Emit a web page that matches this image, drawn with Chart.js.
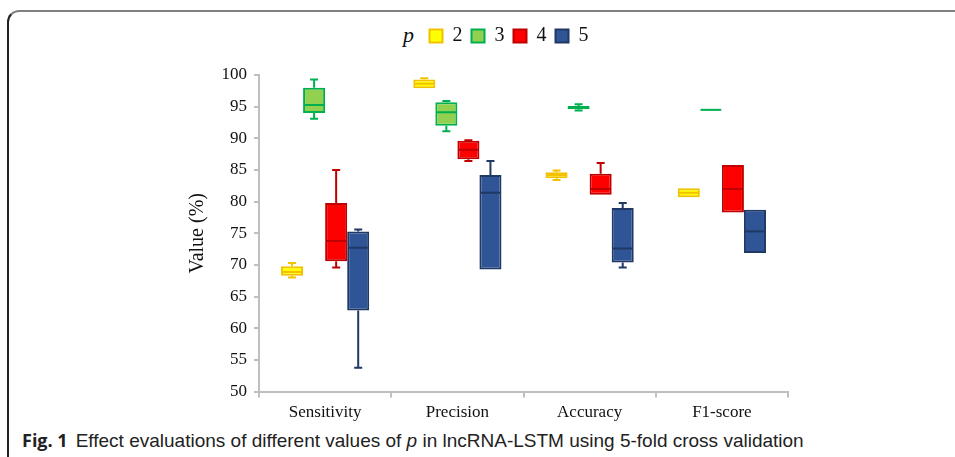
<!DOCTYPE html>
<html>
<head>
<meta charset="utf-8">
<script src="https://cdn.jsdelivr.net/npm/chart.js@4.4.1/dist/chart.umd.min.js"></script>
<style>
  html, body { margin: 0; padding: 0; background: #fff; }
  body { width: 955px; height: 457px; position: relative; overflow: hidden; }
  #frame {
    position: absolute; left: 7px; top: 10px; width: 960px; height: 470px;
    border-top: 2px solid #808080; border-left: 2px solid #222;
    border-top-left-radius: 12px; box-sizing: border-box;
  }
  #wrap { position: absolute; left: 180px; top: 14px; width: 658px; height: 414px; }
  #pLabel {
    position: absolute; left: 403px; top: 22px;
    font: italic 22px "Liberation Serif", serif; color: #111;
  }
  #caption {
    position: absolute; left: 22px; top: 428px; white-space: nowrap;
    font: 19px "Liberation Sans", sans-serif; color: #222;
  }
  #caption b { font: bold 18px "Open Sans", sans-serif; margin-right: 8px; }
</style>
</head>
<body>
<div id="frame"></div>
<div id="pLabel">p</div>
<div id="wrap"><canvas id="boxChart"></canvas></div>
<div id="caption"><b>Fig. 1</b>Effect evaluations of different values of <i>p</i> in lncRNA-LSTM using 5-fold cross validation</div>
<script>
// Categories and series (values of p)
const categories = ['Sensitivity', 'Precision', 'Accuracy', 'F1-score'];
const seriesNames = ['2', '3', '4', '5'];

// Five-number summaries per category: [min, q1, median, q3, max]
const p2 = [[68.0, 68.3, 68.9, 69.8, 70.3], [97.9, 97.9, 98.6, 99.3, 99.5], [83.4, 83.7, 84.2, 84.65, 84.9], [80.7, 80.7, 81.4, 82.1, 82.1]];
const p3 = [[93.1, 94.0, 95.25, 98.0, 99.3], [91.1, 92.0, 94.1, 95.7, 95.9], [94.4, 94.6, 94.9, 95.1, 95.4], [94.4, 94.4, 94.5, 94.6, 94.6]];
const p4 = [[69.6, 70.6, 73.8, 79.8, 85.0], [86.4, 86.7, 88.2, 89.6, 89.7], [81.1, 81.1, 82.0, 84.4, 86.1], [78.3, 78.3, 82.0, 85.8, 85.8]];
const p5 = [[53.75, 62.8, 72.7, 75.3, 75.6], [69.3, 69.3, 81.4, 84.2, 86.4], [69.6, 70.4, 72.6, 79.0, 79.8], [71.9, 71.9, 75.3, 78.7, 78.7]];

const yTicks = [50, 55, 60, 65, 70, 75, 80, 85, 90, 95, 100];

const stats = [p2, p3, p4, p5];
const fills = ['#FFFF00', '#92D050', '#FF0000', '#2F5597'];
const borders = ['#F2C200', '#00B050', '#C00000', '#1F3864'];

const serif = '"Liberation Serif", "Times New Roman", serif';

// whiskers + median lines drawn on top of the floating bars
const whiskerPlugin = {
  id: 'whiskers',
  afterDatasetsDraw(chart) {
    const c = chart.ctx;
    const y = chart.scales.y;
    stats.forEach((rows, i) => {
      const meta = chart.getDatasetMeta(i);
      meta.data.forEach((bar, j) => {
        const [mn, q1, md, q3, mx] = rows[j];
        const x = bar.x;
        const half = bar.width / 2;
        c.save();
        c.strokeStyle = borders[i];
        c.lineWidth = 2;
        c.beginPath();
        if (mx > q3) {
          c.moveTo(x, y.getPixelForValue(q3)); c.lineTo(x, y.getPixelForValue(mx));
          c.moveTo(x - 4, y.getPixelForValue(mx)); c.lineTo(x + 4, y.getPixelForValue(mx));
        }
        if (mn < q1) {
          c.moveTo(x, y.getPixelForValue(q1)); c.lineTo(x, y.getPixelForValue(mn));
          c.moveTo(x - 4, y.getPixelForValue(mn)); c.lineTo(x + 4, y.getPixelForValue(mn));
        }
        c.moveTo(x - half + 1, y.getPixelForValue(md)); c.lineTo(x + half - 1, y.getPixelForValue(md));
        c.stroke();
        c.restore();
      });
    });
  }
};

// extra space under the legend
const legendGap = {
  id: 'legendGap',
  beforeInit(chart) {
    const fit = chart.legend.fit;
    chart.legend.fit = function () {
      fit.bind(chart.legend)();
      this.height += 19;
    };
  }
};

new Chart(document.getElementById('boxChart'), {
  type: 'bar',
  data: {
    labels: categories,
    datasets: seriesNames.map((name, i) => ({
      label: name,
      data: stats[i].map(s => [s[1], s[3]]),
      backgroundColor: fills[i],
      borderColor: borders[i],
      borderWidth: 2,
      borderSkipped: false,
      categoryPercentage: 0.667,
      barPercentage: 1.0,
    })),
  },
  options: {
    responsive: true,
    maintainAspectRatio: false,
    animation: false,
    layout: { padding: { top: 3 } },
    plugins: {
      legend: {
        position: 'top',
        labels: {
          boxWidth: 13,
          boxHeight: 13,
          padding: 9,
          color: '#111',
          font: { family: serif, size: 20 },
        },
      },
      tooltip: { enabled: false },
    },
    scales: {
      x: {
        grid: { drawOnChartArea: false, offset: true, color: '#BFBFBF', lineWidth: 2, tickLength: 6 },
        border: { color: '#BFBFBF', width: 2 },
        ticks: { color: '#111', font: { family: serif, size: 17 }, padding: 5 },
      },
      y: {
        min: 50,
        max: 100,
        afterBuildTicks: (axis) => { axis.ticks = yTicks.map(v => ({ value: v })); },
        afterFit: (axis) => { axis.width = 79; },
        grid: { drawOnChartArea: false, color: '#BFBFBF', lineWidth: 2, tickLength: 5 },
        border: { color: '#BFBFBF', width: 2 },
        ticks: { color: '#111', font: { family: serif, size: 17 }, padding: 7 },
        title: {
          display: true,
          text: 'Value (%)',
          color: '#111',
          font: { family: serif, size: 20 },
          padding: { top: 6, bottom: 0 },
        },
      },
      // empty right-hand spacer so the legend sits where it does in the figure
      spacer: {
        position: 'right',
        display: true,
        afterFit: (axis) => { axis.width = 50; },
        grid: { display: false },
        border: { display: false },
        ticks: { display: false },
      },
    },
  },
  plugins: [whiskerPlugin, legendGap],
});
</script>
</body>
</html>
